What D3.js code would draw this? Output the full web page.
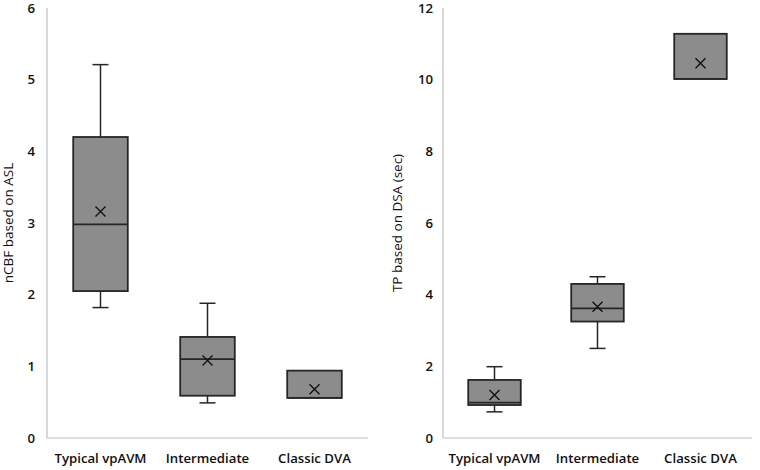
<!DOCTYPE html>
<html><head><meta charset="utf-8">
<script src="https://cdn.jsdelivr.net/npm/d3@7"></script>
<style>body{margin:0;background:#fff}svg{display:block}text{font-family:"Open Sans",sans-serif;fill:#111}</style>
</head><body><svg id="c" width="760" height="470"></svg>
<script>
const categories = ["Typical vpAVM", "Intermediate", "Classic DVA"];

// Left panel: nCBF based on ASL
const ncbfMin    = [1.82, 0.49, 0.56];
const ncbfQ1     = [2.05, 0.59, 0.56];
const ncbfMedian = [2.98, 1.10, 0.56];
const ncbfQ3     = [4.20, 1.41, 0.94];
const ncbfMax    = [5.21, 1.88, 0.94];
const ncbfMean   = [3.16, 1.08, 0.68];
const ncbfTicks  = [0, 1, 2, 3, 4, 5, 6];

// Right panel: TP based on DSA (sec)
const tpMin    = [0.73, 2.50, 10.02];
const tpQ1     = [0.92, 3.25, 10.02];
const tpMedian = [0.99, 3.62, 10.02];
const tpQ3     = [1.62, 4.30, 11.28];
const tpMax    = [1.99, 4.50, 11.28];
const tpMean   = [1.20, 3.66, 10.46];
const tpTicks  = [0, 2, 4, 6, 8, 10, 12];

const svg = d3.select("#c");
const FS = "13.2px", FW = 600;

function panel(opt) {
  const x = d3.scaleBand().domain(categories).range([opt.x0, opt.x1]);
  const y = d3.scaleLinear().domain([0, opt.ymax]).range([438, 8]);
  const g = svg.append("g");
  g.append("line").attr("x1", opt.x0).attr("x2", opt.x0).attr("y1", y(opt.ymax)).attr("y2", y(0))
    .attr("stroke", "#bfbfbf").attr("stroke-width", 1.2);
  g.append("line").attr("x1", opt.x0).attr("x2", opt.x1).attr("y1", y(0)).attr("y2", y(0))
    .attr("stroke", "#bfbfbf").attr("stroke-width", 1.2);
  const ya = d3.axisLeft(y).tickValues(opt.ticks).tickSize(0).tickPadding(opt.pad).tickFormat(d3.format("d"));
  const yg = g.append("g").attr("transform", `translate(${opt.x0},0)`).call(ya);
  yg.select(".domain").remove();
  yg.selectAll("text").style("font-size", FS).style("font-weight", FW).style("font-family", "'Open Sans',sans-serif").attr("fill", "#1a1a1a");
  const xa = d3.axisBottom(x).tickSize(0).tickPadding(16);
  const xg = g.append("g").attr("transform", `translate(0,${y(0)})`).call(xa);
  xg.select(".domain").remove();
  xg.selectAll("text").style("font-size", FS).style("font-weight", FW).style("font-family", "'Open Sans',sans-serif").attr("fill", "#1a1a1a");
  g.append("text").attr("transform", `translate(${opt.tx},${(y(0) + y(opt.ymax)) / 2}) rotate(-90)`)
    .attr("text-anchor", "middle").style("font-size", "13.5px").style("font-weight", 500).attr("fill", "#1a1a1a").text(opt.title);

  const bw = x.bandwidth() * 0.51;
  const cap = 16;
  const s = "#262626";
  categories.forEach((c, i) => {
    const cx = x(c) + x.bandwidth() / 2;
    if (opt.max[i] > opt.q3[i]) {
      g.append("line").attr("x1", cx).attr("x2", cx).attr("y1", y(opt.max[i])).attr("y2", y(opt.q3[i])).attr("stroke", s).attr("stroke-width", 1.5);
      g.append("line").attr("x1", cx - cap / 2).attr("x2", cx + cap / 2).attr("y1", y(opt.max[i])).attr("y2", y(opt.max[i])).attr("stroke", s).attr("stroke-width", 1.5);
    }
    if (opt.min[i] < opt.q1[i]) {
      g.append("line").attr("x1", cx).attr("x2", cx).attr("y1", y(opt.q1[i])).attr("y2", y(opt.min[i])).attr("stroke", s).attr("stroke-width", 1.5);
      g.append("line").attr("x1", cx - cap / 2).attr("x2", cx + cap / 2).attr("y1", y(opt.min[i])).attr("y2", y(opt.min[i])).attr("stroke", s).attr("stroke-width", 1.5);
    }
    g.append("rect").attr("x", cx - bw / 2).attr("width", bw)
      .attr("y", y(opt.q3[i])).attr("height", y(opt.q1[i]) - y(opt.q3[i]))
      .attr("fill", "#8c8c8c").attr("stroke", s).attr("stroke-width", 1.8);
    g.append("line").attr("x1", cx - bw / 2).attr("x2", cx + bw / 2)
      .attr("y1", y(opt.med[i])).attr("y2", y(opt.med[i])).attr("stroke", s).attr("stroke-width", 1.8);
    const my = y(opt.mean[i]), r = 5;
    g.append("path").attr("d", `M${cx - r},${my - r}L${cx + r},${my + r}M${cx - r},${my + r}L${cx + r},${my - r}`)
      .attr("stroke", "#111").attr("stroke-width", 1.4).attr("fill", "none");
  });
}

panel({x0: 47, x1: 368, ymax: 6, ticks: ncbfTicks, pad: 12, tx: 13, title: "nCBF based on ASL",
  min: ncbfMin, q1: ncbfQ1, med: ncbfMedian, q3: ncbfQ3, max: ncbfMax, mean: ncbfMean});
panel({x0: 443, x1: 752, ymax: 12, ticks: tpTicks, pad: 10, tx: 402, title: "TP based on DSA (sec)",
  min: tpMin, q1: tpQ1, med: tpMedian, q3: tpQ3, max: tpMax, mean: tpMean});
</script></body></html>
